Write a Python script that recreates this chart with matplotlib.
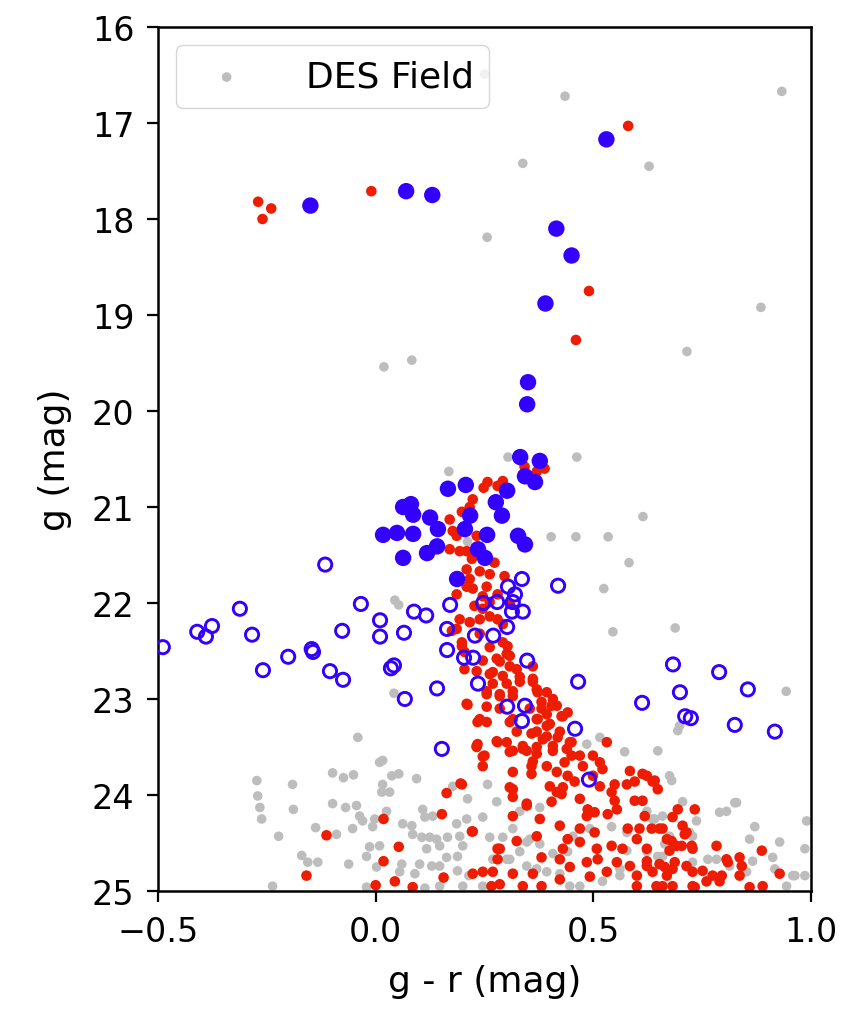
import matplotlib
matplotlib.use("Agg")
import matplotlib.pyplot as plt
import numpy as np

# ---------------- data (g - r, g) ----------------
blue_filled_gr = [0.53, -0.15, 0.07, 0.13, 0.415, 0.45, 0.39, 0.35, 0.348,
                  0.332, 0.377, 0.343, 0.366,
                  0.166, 0.207, 0.063, 0.081, 0.086, 0.125, 0.143, 0.017, 0.049,
                  0.086, 0.141, 0.118, 0.063, 0.217, 0.205, 0.235, 0.251, 0.256,
                  0.187, 0.302, 0.276, 0.290, 0.327, 0.343]
blue_filled_g = [17.17, 17.86, 17.71, 17.75, 18.10, 18.38, 18.88, 19.70, 19.93,
                 20.48, 20.52, 20.68, 20.74,
                 20.81, 20.77, 21.00, 20.97, 21.08, 21.11, 21.23, 21.29, 21.27,
                 21.28, 21.41, 21.48, 21.53, 21.09, 21.23, 21.44, 21.53, 21.29,
                 21.75, 20.83, 20.95, 21.09, 21.30, 21.39]

blue_open_gr = [-0.489, -0.116, -0.312, -0.41, -0.376, -0.39, -0.284, -0.259,
                -0.201, -0.144, -0.147, -0.077, -0.034, -0.105, -0.075, 0.010,
                0.010, 0.035, 0.042, 0.065, 0.067, 0.088, 0.116, 0.141, 0.152,
                0.164, 0.164, 0.171, 0.228, 0.270, 0.302, 0.203, 0.224, 0.235,
                0.348, 0.465, 0.302, 0.343, 0.336, 0.458, 0.247, 0.279, 0.313,
                0.338, 0.315, 0.336, 0.419, 0.304, 0.320, 0.683, 0.789, 0.855,
                0.612, 0.699, 0.711, 0.724, 0.825, 0.917, 0.490]
blue_open_g = [22.46, 21.60, 22.06, 22.30, 22.24, 22.35, 22.33, 22.70,
               22.56, 22.51, 22.48, 22.29, 22.01, 22.71, 22.80, 22.18,
               22.35, 22.68, 22.65, 22.31, 23.00, 22.09, 22.13, 22.89, 23.52,
               22.27, 22.49, 22.02, 22.34, 22.34, 22.25, 22.57, 22.57, 22.84,
               22.60, 22.82, 23.08, 23.07, 23.23, 23.31, 22.00, 21.99, 22.09,
               22.09, 21.99, 21.75, 21.82, 21.83, 21.91, 22.64, 22.72, 22.90,
               23.04, 22.93, 23.18, 23.20, 23.27, 23.34, 23.84]

red_gr = [0.58, -0.27, -0.24, -0.26, -0.01, 0.49, 0.46,
          0.342, 0.370, 0.388, 0.257, 0.248, 0.280, 0.292, 0.223, 0.216, 0.198,
          0.170, 0.177, 0.186, 0.232, 0.170, 0.193, 0.209, 0.221, 0.273, 0.209,
          0.239, 0.262, 0.296, 0.216, 0.209, 0.223, 0.186, 0.255, 0.246, 0.280,
          0.262, 0.308,
          0.193, 0.216, 0.239, 0.262, 0.280, 0.246, 0.227, 0.186, 0.198, 0.204,
          0.262, 0.292, 0.301, 0.246, 0.278, 0.308, 0.204, 0.232, 0.262, 0.292,
          0.324, 0.269, 0.301, 0.331, 0.361, 0.255, 0.285, 0.315, 0.370, 0.393,
          0.209, 0.255, 0.354, 0.381, 0.407, 0.416, 0.239, 0.308, 0.370, 0.393,
          0.430, 0.400, 0.324, 0.370, 0.393, 0.418, 0.278, 0.301, 0.234, 0.338,
          0.370, 0.407, 0.446,
          0.239, 0.292, 0.303, 0.308, 0.285, 0.361, 0.269, 0.331, 0.361, 0.255,
          0.285, 0.315, 0.372, 0.404, 0.381, 0.285, 0.427, 0.441, 0.372, 0.393,
          0.315, 0.255, 0.358, 0.384, 0.423, 0.450, 0.531, 0.280, 0.250, 0.315,
          0.347, 0.370, 0.407, 0.439, 0.450, 0.434, 0.469, 0.499, 0.515, 0.521,
          0.476, 0.246, 0.358, 0.393, 0.416, 0.441, 0.499, 0.457, 0.515, 0.549,
          0.577, 0.584, 0.613, 0.636, 0.623, 0.648, 0.595, 0.315, 0.400, 0.430,
          0.416, 0.542, 0.549, 0.595, 0.613, 0.469, 0.487, 0.503, 0.485, 0.533,
          0.554, 0.694, 0.733, 0.682, 0.347, 0.404, 0.427, 0.315, 0.377, 0.423,
          0.469, 0.503, 0.579, 0.606, 0.634, 0.652, 0.705, 0.714, 0.370, 0.324,
          0.285, 0.441, 0.430, 0.469, 0.508, 0.542, 0.567, 0.600, 0.669, 0.691,
          0.728, 0.783, 0.887, 0.381, 0.423, 0.485, 0.446, 0.510, 0.554, 0.584,
          0.623, 0.652, 0.682, 0.714, 0.806, 0.836, 0.841, 0.928, 0.269, 0.315,
          0.361, 0.423, 0.492, 0.531, 0.600, 0.636, 0.669, 0.728, 0.774, 0.790,
          0.285, 0.338, 0.381, 0.600, 0.645, 0.682, 0.728, 0.859, 0.889,
          0.641, 0.618, 0.659, 0.710, 0.680, 0.703, 0.726, 0.623, 0.675, 0.809,
          0.687, 0.623, 0.664, 0.751, 0.795, 0.836, 0.760, 0.659, 0.733,
          0.195, 0.163, 0.152, 0.018, -0.113, 0.053, 0.018, -0.159, 0.044, 0.085,
          0.156, 0.000,
          0.232, 0.246, 0.315, 0.358, 0.308, 0.338, 0.361, 0.308, 0.315, 0.347,
          0.223, 0.280, 0.280, 0.246, 0.266,
          0.175, 0.198, 0.211, 0.234, 0.232, 0.198, 0.221, 0.223]
red_g = [17.03, 17.82, 17.89, 18.00, 17.71, 18.75, 19.26,
         20.58, 20.63, 20.60, 20.74, 20.80, 20.78, 20.73, 20.92, 21.00, 21.05,
         21.13, 21.25, 21.30, 21.30, 21.44, 21.46, 21.46, 21.54, 21.58, 21.65,
         21.67, 21.70, 21.72, 21.75, 21.83, 21.85, 21.91, 21.83, 21.93, 21.91,
         21.99, 22.01,
         22.17, 22.20, 22.17, 22.14, 22.17, 22.06, 22.03, 22.27, 22.41, 22.51,
         22.46, 22.41, 22.53, 22.60, 22.58, 22.66, 22.69, 22.71, 22.74, 22.76,
         22.69, 22.84, 22.84, 22.82, 22.79, 22.95, 22.95, 22.97, 22.90, 22.93,
         23.05, 23.08, 23.10, 23.03, 23.00, 23.07, 23.21, 23.24, 23.21, 23.16,
         23.18, 23.26, 23.34, 23.34, 23.39, 23.40, 23.44, 23.45, 23.47, 23.49,
         23.50, 23.49, 23.45,
         22.32, 22.22, 22.45, 22.55, 22.61, 22.66, 22.72, 22.77, 22.82, 22.92,
         22.97, 22.92, 22.93, 23.07, 23.10, 23.10, 23.18, 23.14, 23.21, 23.28,
         23.21, 23.24, 23.36, 23.42, 23.34, 23.45, 23.45, 23.45, 23.59, 23.54,
         23.54, 23.57, 23.54, 23.52, 23.59, 23.66, 23.59, 23.59, 23.66, 23.73,
         23.70, 23.70, 23.70, 23.70, 23.76, 23.80, 23.80, 23.86, 23.91, 23.89,
         23.89, 23.75, 23.78, 23.86, 23.80, 23.94, 23.86, 23.94, 23.91, 23.92,
         23.97, 23.97, 24.06, 24.06, 24.06, 24.04, 24.15, 24.18, 24.22, 24.20,
         24.15, 24.15, 24.15, 24.23, 24.09, 24.07, 23.99, 24.22, 24.25, 24.32,
         24.35, 24.39, 24.35, 24.35, 24.35, 24.35, 24.32, 24.39, 24.43, 24.48,
         24.56, 24.46, 24.56, 24.49, 24.56, 24.53, 24.56, 24.46, 24.46, 24.53,
         24.56, 24.53, 24.58, 24.65, 24.67, 24.70, 24.75, 24.67, 24.70, 24.74,
         24.69, 24.72, 24.77, 24.74, 24.67, 24.65, 24.74, 24.82, 24.80, 24.82,
         24.82, 24.88, 24.85, 24.80, 24.84, 24.80, 24.84, 24.80, 24.84, 24.90,
         24.93, 24.95, 24.95, 24.95, 24.95, 24.95, 24.95, 24.96, 24.95,
         23.85, 24.22, 24.35, 24.41, 24.48, 24.53, 24.53, 24.56, 24.58, 24.70,
         24.70, 24.74, 24.75, 24.79, 24.84, 24.84, 24.90, 24.95, 24.96,
         23.88, 23.98, 24.20, 24.25, 24.42, 24.54, 24.69, 24.84, 24.90, 24.96,
         24.86, 24.94,
         23.50, 23.60, 23.76, 23.78, 23.55, 23.52, 23.65, 23.92, 24.02, 24.11,
         24.38, 24.56, 24.67, 24.80, 24.95,
         22.29, 22.45, 23.06, 23.24, 23.49, 23.89, 24.38, 24.82]

field_gr = [0.25, 0.435, 0.933, 0.338, 0.628, 0.256, 0.885, 0.019, 0.083, 0.715,
            0.168, 0.462, 0.304, 0.614, 0.403, 0.460, 0.534, 0.582, 0.524, 0.211,
            0.044, 0.053, 0.545, 0.688, 0.943, 0.698, 0.694, 0.515, 0.485, 0.042,
            0.572, 0.648, 0.675, 0.680, 0.825, 0.790, 0.806, 0.871, 0.990, 0.928,
            0.986, 0.859, 0.912, 0.958, 0.986, 0.257, 0.278, 0.246, 0.315, 0.262,
            0.347, 0.331, 0.301, 0.269, 0.347, 0.393, 0.441, 0.453, 0.492, 0.636,
            0.659, 0.737, 0.721, 0.813, 0.763, 0.852, 0.944, 0.246, 0.446, 0.561,
            0.659, 0.623, 0.728, 0.577, 0.542, 0.675,
            0.705, 0.641, 0.829, 0.866, 0.917, 0.963, 0.783, 0.648, 0.664, 0.728,
            -0.273, -0.271, -0.266, -0.262, -0.223, -0.191, -0.189, -0.099, -0.074,
            -0.051, 0.016, 0.009, -0.099, -0.069, -0.044, -0.037, -0.030, -0.138,
            -0.090, -0.053, -0.002, -0.007, 0.025, 0.016, 0.014, 0.032, 0.037,
            0.053, 0.094, 0.177, 0.108, 0.113, 0.131, 0.062, 0.083, 0.085, 0.106,
            0.124, 0.140, 0.117, 0.147, 0.165, 0.186, 0.193, 0.200, 0.188, 0.163,
            0.147, 0.129, 0.101, 0.090, 0.060, 0.055, -0.014, -0.021, 0.009,
            -0.170, -0.156, -0.133, -0.062, -0.237, 0.002, -0.021, 0.188, 0.200,
            0.147, 0.113, 0.214, 0.209, -0.041, 0.211,
            0.377, 0.331, 0.292, 0.354, 0.377, 0.407, 0.308, 0.370, 0.423, 0.469,
            0.521, 0.561, 0.577, 0.623]
field_g = [16.49, 16.72, 16.67, 17.42, 17.45, 18.19, 18.92, 19.54, 19.47, 19.38,
           20.63, 20.48, 20.48, 21.10, 21.31, 21.31, 21.31, 21.58, 21.85, 21.36,
           21.97, 22.02, 22.30, 22.26, 22.92, 23.28, 23.33, 23.40, 23.47, 22.94,
           23.55, 23.54, 23.80, 23.85, 24.08, 24.18, 24.17, 24.33, 24.27, 24.49,
           24.56, 24.46, 24.65, 24.84, 24.84, 23.89, 24.07, 24.23, 24.35, 24.44,
           24.49, 24.59, 24.67, 24.67, 24.74, 24.80, 24.59, 24.43, 24.35, 24.25,
           24.22, 24.27, 24.39, 24.74, 24.67, 24.80, 24.95, 24.95, 24.95, 24.84,
           24.64, 24.59, 24.70, 24.39, 24.33, 24.43,
           24.07, 24.25, 24.08, 24.69, 24.77, 24.84, 24.67, 24.64, 24.51, 24.43,
           23.85, 24.01, 24.13, 24.25, 24.43, 23.89, 24.15, 23.77, 23.82,
           23.79, 23.64, 23.66, 24.09, 24.13, 24.11, 24.22, 24.27, 24.34,
           24.41, 24.35, 24.25, 24.33, 24.17, 23.89, 23.97, 23.97, 23.80,
           23.78, 23.83, 23.91, 24.15, 24.23, 24.22, 24.30, 24.32, 24.41, 24.44,
           24.44, 24.46, 24.56, 24.53, 24.44, 24.30, 24.43, 24.53, 24.64, 24.65,
           24.74, 24.74, 24.72, 24.82, 24.72, 24.80, 24.54, 24.64, 24.53,
           24.63, 24.70, 24.70, 24.72, 24.95, 24.75, 24.96, 24.79, 24.95,
           24.95, 24.97, 24.84, 24.25, 23.40, 24.04,
           24.13, 24.17, 24.44, 24.46, 24.51, 24.61, 24.67, 24.77, 24.82, 24.95,
           24.90, 24.77, 24.58, 24.17]

# ---------------- figure ----------------
fig = plt.figure(figsize=(8.57, 10.12), dpi=100)
ax = fig.add_axes([0.1844, 0.1186, 0.9463 - 0.1844, 0.9723 - 0.1186])

gray = "#bdbdbd"
red = "#ee1c00"
blue = "#3300ff"

ax.scatter(field_gr, field_g, s=48, c=gray, edgecolors="none", zorder=1,
           label="DES Field")
ax.scatter(red_gr, red_g, s=58, c=red, edgecolors="none", zorder=2)
ax.scatter(blue_filled_gr, blue_filled_g, s=140, c=blue, edgecolors="none", zorder=3)
ax.scatter(blue_open_gr, blue_open_g, s=90, facecolors="none", edgecolors=blue,
           linewidths=2.1, zorder=4)

ax.set_xlim(-0.5, 1.0)
ax.set_ylim(25, 16)
ax.set_xticks([-0.5, 0.0, 0.5, 1.0])
ax.set_yticks(np.arange(16, 26, 1))
ax.tick_params(labelsize=24, width=1.6, length=8, pad=9)
for sp in ax.spines.values():
    sp.set_linewidth(1.8)

ax.set_xlabel("g - r (mag)", fontsize=26, labelpad=12)
ax.set_ylabel("g (mag)", fontsize=26, labelpad=14)

leg = ax.legend(loc="upper left", fontsize=26, handletextpad=1.2,
                borderpad=0.4, frameon=True, bbox_to_anchor=(0.0, 1.0))

fig.savefig("out.png", dpi=100)
